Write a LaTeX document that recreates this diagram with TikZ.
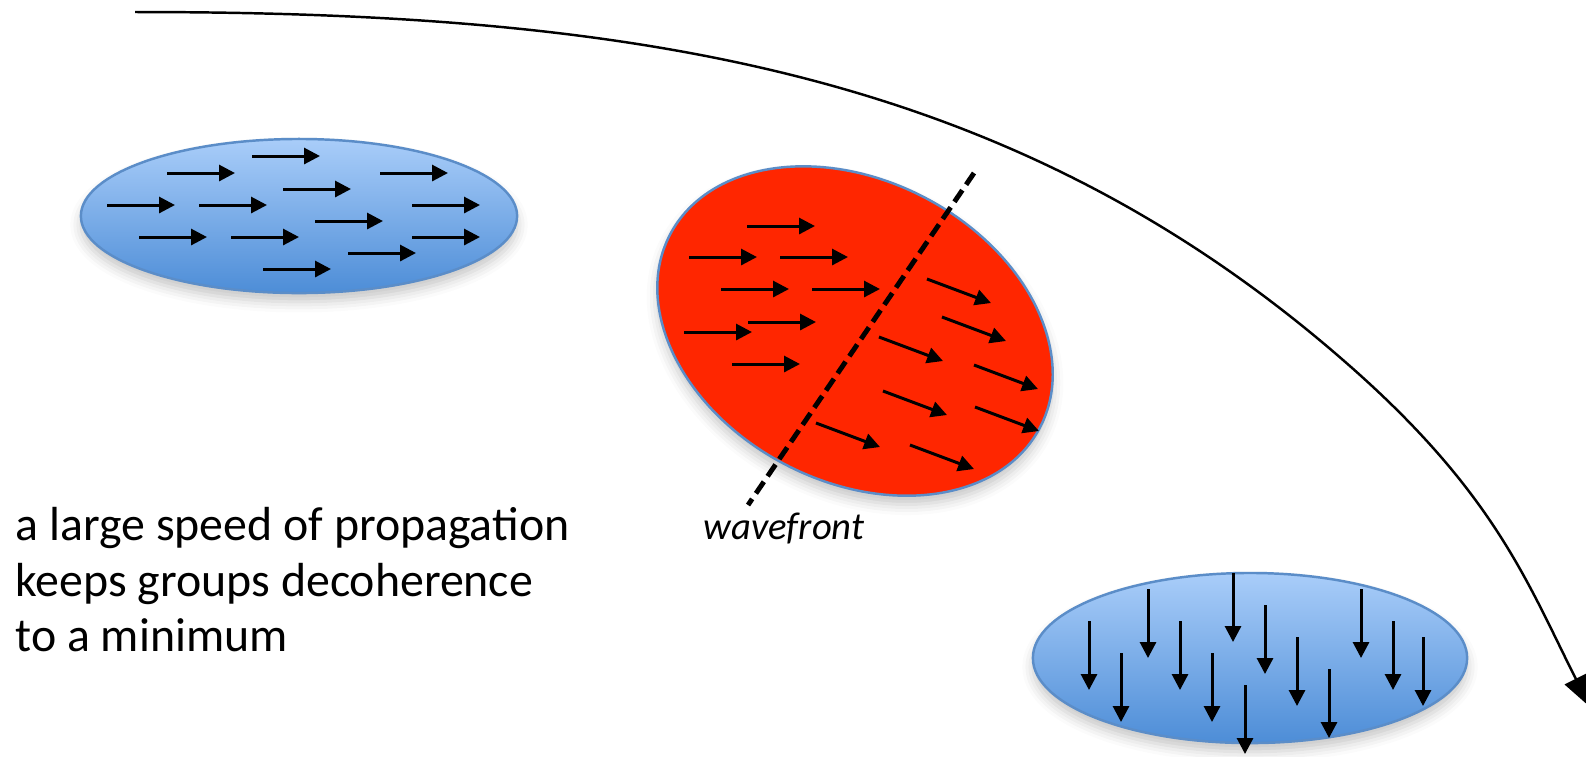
\documentclass[tikz,border=0pt]{standalone}
\usepackage{fontspec}
\setmainfont{Carlito}
\usetikzlibrary{arrows.meta,shapes.geometric,shadows.blur}

\definecolor{bluetop}{HTML}{A9CDF9}
\definecolor{bluebot}{HTML}{4D8DD7}
\definecolor{rimblue}{HTML}{5B8DC8}
\definecolor{flame}{HTML}{FF2600}

\tikzset{
  softshadow/.style={blur shadow={shadow xshift=0pt, shadow yshift=-2.5pt,
      shadow blur radius=3pt, shadow opacity=22}},
  blob/.style={ellipse, draw=rimblue, line width=0.7pt, inner sep=0pt,
      top color=bluetop, bottom color=bluebot, softshadow},
  hotblob/.style={ellipse, draw=rimblue, line width=0.7pt, inner sep=0pt,
      fill=flame, softshadow},
  spin/.style={line width=0.85pt, -{Triangle[length=4.5pt,width=4.5pt]}},
  front/.style={line width=1.4pt, dash pattern=on 4pt off 1.9pt},
  path/.style={line width=0.7pt, -{Triangle[length=9pt,width=7pt]}},
  note/.style={align=left, inner sep=0pt, font=\fontsize{13.6}{15.7}\selectfont},
  tag/.style={inner sep=0pt, font=\itshape\fontsize{11}{13}\selectfont}
}

\begin{document}
\begin{tikzpicture}[x=0.01cm, y=-0.01cm]
  \useasboundingbox (0,0) rectangle (1586,756);

  % three groups of spins
  \node[blob, minimum width=4.36cm, minimum height=1.54cm] (left) at (299,216) {};
  \node[hotblob, rotate=-27.5, minimum width=4.17cm, minimum height=3.01cm] (mid) at (855,331) {};
  \node[blob, minimum width=4.34cm, minimum height=1.70cm] (right) at (1250,658) {};

  % aligned spins in the left group
  \foreach \x/\y in {252/156,167/173,380/173,283/189,107/205,199/205,412/205,
                     315/221,139/237,231/237,412/237,348/253,263/269}
    \draw[spin] (\x,\y) -- ++(68,0);

  % spins behind the wavefront
  \foreach \x/\y in {747/226,689/257,780/257,721/289,812/289,748/322,684/332,732/364}
    \draw[spin] (\x,\y) -- ++(68,0);

  % spins already turned by the wavefront
  \foreach \x/\y in {927/279,942/317,879/337,974/365,883/391,975/407,816/423,910/445}
    \draw[spin] (\x,\y) -- ++(64,24);

  % spins in the right group, all pointing down
  \foreach \x/\y in {1089/621,1121/653,1148/589,1180/621,1212/653,1233/573,1245/685,
                     1265/605,1297/637,1329/669,1361/589,1393/621,1423/637}
    \draw[spin] (\x,\y) -- ++(0,69);

  % wavefront
  \coordinate (wtop) at (974,173);
  \coordinate (wbot) at (748,505);
  \draw[front] (wtop) -- (wbot);
  \node[tag, anchor=base] (wf) at (784,539) {wavefront};

  % long propagation path: two cubic pieces with matching tangent and curvature
  \coordinate (p0) at (135,12);
  \coordinate (p1) at (1343,360);
  \coordinate (p2) at (1590,707);
  \draw[path] (p0) .. controls (635,12) and (1011,71) .. (p1)
                   .. controls (1494,491) and (1527,582) .. (p2);

  % caption
  \node[note, anchor=north west] (cap) at (15,507)
    {a large speed of propagation\\keeps groups decoherence\\to a minimum};
\end{tikzpicture}
\end{document}
